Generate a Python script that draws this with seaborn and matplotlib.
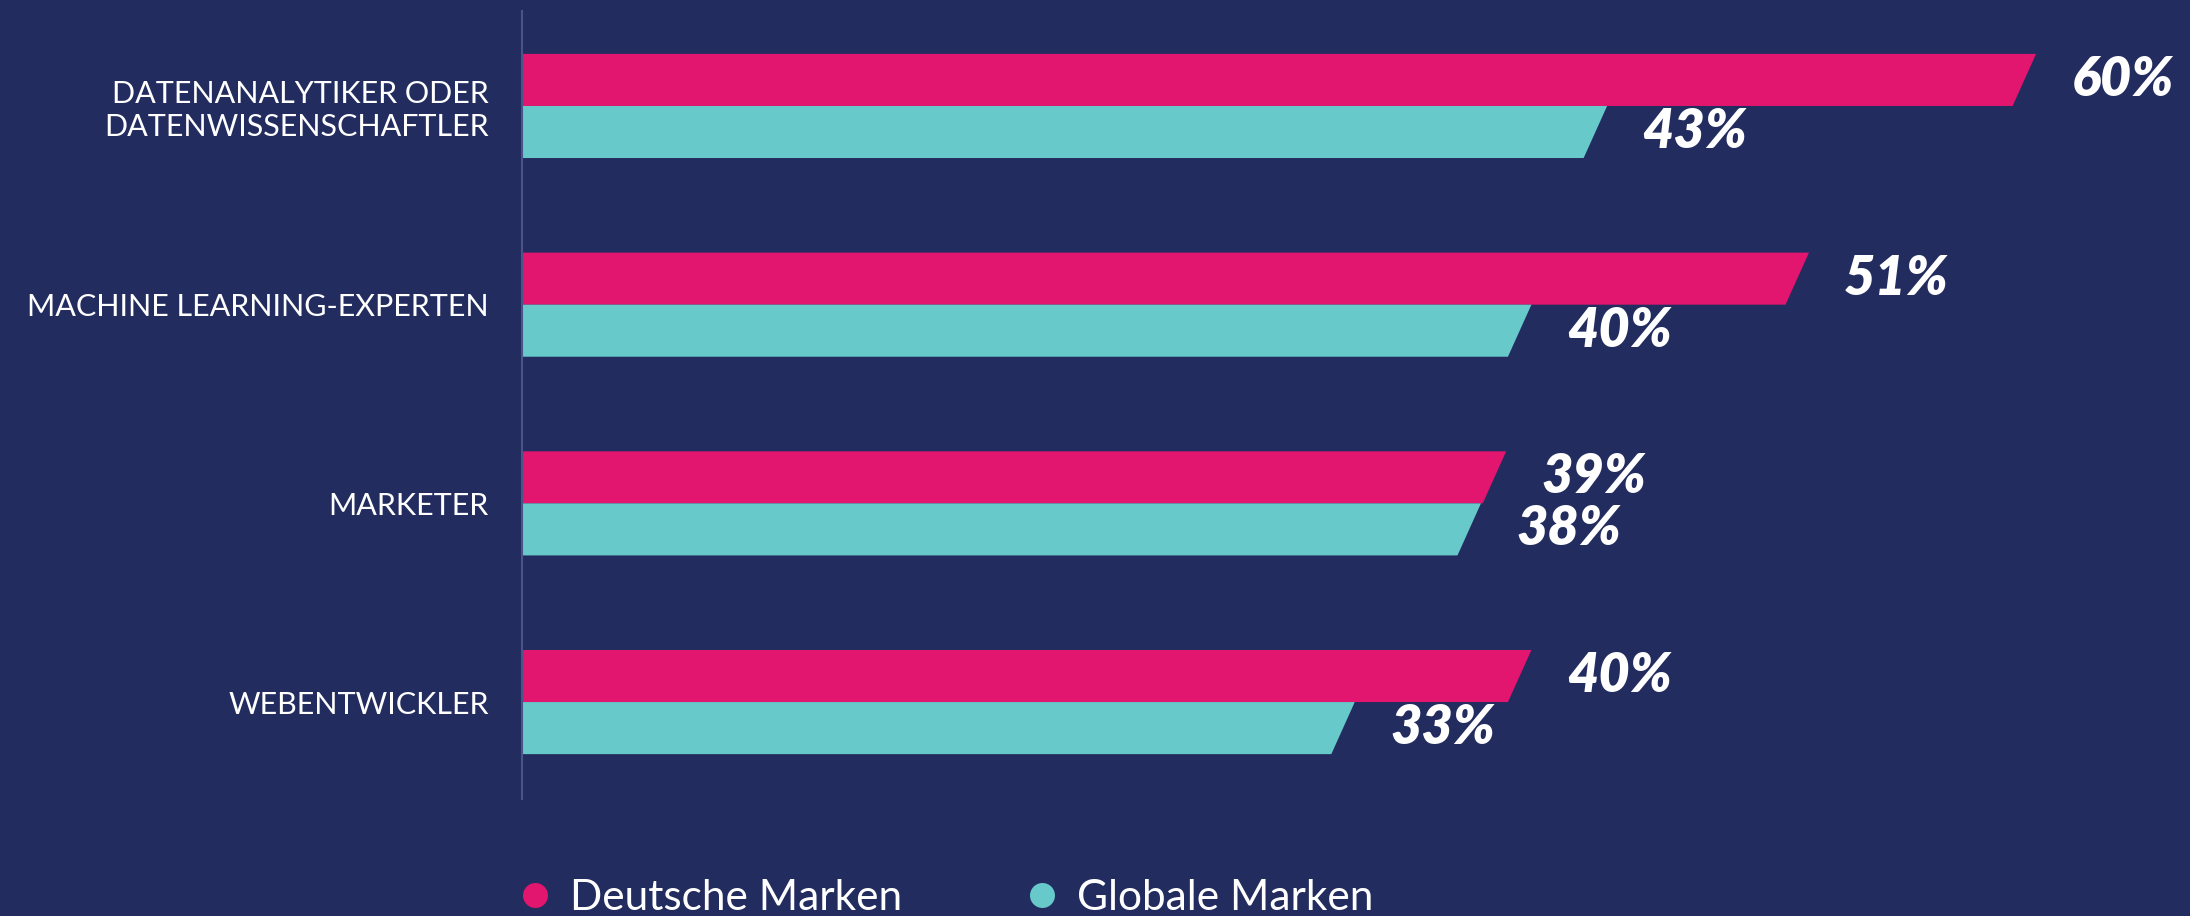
import matplotlib
matplotlib.use('Agg')
import matplotlib.pyplot as plt
from matplotlib.patches import Polygon
from matplotlib.lines import Line2D
import seaborn as sns
import pandas as pd

# data
categories = ['DATENANALYTIKER ODER\nDATENWISSENSCHAFTLER', 'MACHINE LEARNING-EXPERTEN',
              'MARKETER', 'WEBENTWICKLER']
deutsche = [60, 51, 39, 40]
globale = [43, 40, 38, 33]
series = ['Deutsche Marken', 'Globale Marken']

bg = '#232C5F'
colors = ['#E2156F', '#67C9C9']

df = pd.DataFrame({
    'role': categories * 2,
    'share': deutsche + globale,
    'brand': [series[0]] * len(deutsche) + [series[1]] * len(globale),
})

sns.set_style('white')
plt.rcParams['font.family'] = ['Lato', 'DejaVu Sans']

fig = plt.figure(figsize=(21.9, 9.16), dpi=100, facecolor=bg)
ax = fig.add_axes([0.2384, 0.1277, 0.7616, 0.8603])
ax.set_facecolor(bg)

sns.barplot(data=df, y='role', x='share', hue='brand', palette=colors, orient='h',
            width=0.524, saturation=1, legend=False, linewidth=0, ax=ax)

# swap rectangles for bars with a slanted right end
slant = 0.93
for p in list(ax.patches):
    x0, y0, w, h = p.get_x(), p.get_y(), p.get_width(), p.get_height()
    fc = p.get_facecolor()
    p.set_visible(False)
    poly = Polygon([(x0, y0), (x0 + w, y0), (x0 + w - slant, y0 + h), (x0, y0 + h)],
                   closed=True, facecolor=fc, edgecolor='none')
    ax.add_patch(poly)
    ax.text(w + 1.4, y0 + h / 2, f'{w:.0f}%', color='white', fontsize=39,
            fontweight='heavy', fontstyle='italic', va='center', ha='left')

ax.set_xlim(0, 66.1)
ax.set_ylim(3.488, -0.478)
ax.set_xticks([])
ax.set_xlabel('')
ax.set_ylabel('')
ax.tick_params(axis='y', length=0, pad=24, labelsize=22, labelcolor='white')
for lbl in ax.get_yticklabels():
    lbl.set_fontweight('normal')

for s in ['top', 'right', 'bottom']:
    ax.spines[s].set_visible(False)
ax.spines['left'].set_color('#4A5489')
ax.spines['left'].set_linewidth(1.5)

handles = [Line2D([], [], marker='o', linestyle='', markersize=18,
                  markerfacecolor=c, markeredgewidth=0) for c in colors]
fig.legend(handles, series, loc='center left', bbox_to_anchor=(0.2347, 0.0197), ncol=2,
           frameon=False, labelcolor='white', handlelength=1.0, handletextpad=0.33,
           columnspacing=2.8, borderpad=0, borderaxespad=0,
           prop={'size': 30.5, 'weight': 'normal'})

fig.savefig('out.png', dpi=100, facecolor=bg)
